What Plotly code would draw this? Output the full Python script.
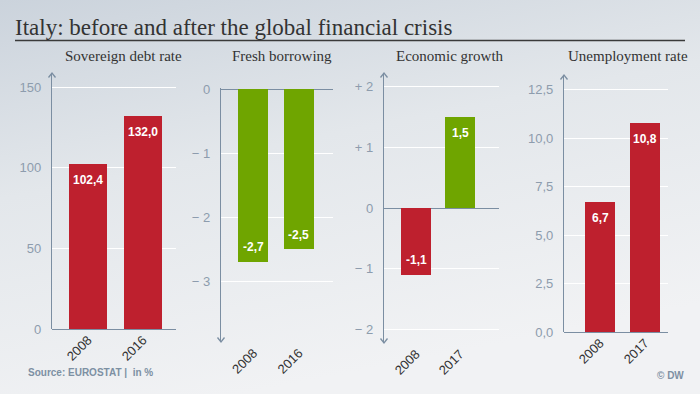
import base64
import plotly.graph_objects as go

# ---------------- data ----------------
panel_titles = ["Sovereign debt rate", "Fresh borrowing", "Economic growth", "Unemployment rate"]
debt_years = ["2008", "2016"]
debt_values = [102.4, 132.0]
borrow_years = ["2008", "2016"]
borrow_values = [-2.7, -2.5]
growth_years = ["2008", "2017"]
growth_values = [-1.1, 1.5]
unemp_years = ["2008", "2017"]
unemp_values = [6.7, 10.8]

debt_ticks = [0, 50, 100, 150]
debt_ticktext = ["0", "50", "100", "150"]
borrow_ticks = [0, -1, -2, -3]
borrow_ticktext = ["0", "\u2212 1", "\u2212 2", "\u2212 3"]
growth_ticks = [2, 1, 0, -1, -2]
growth_ticktext = ["+ 2", "+ 1", "0", "\u2212 1", "\u2212 2"]
unemp_ticks = [0, 2.5, 5, 7.5, 10, 12.5]
unemp_ticktext = ["0,0", "2,5", "5,0", "7,5", "10,0", "12,5"]

title_text = "Italy: before and after the global financial crisis"
source_text = "Source: EUROSTAT |  in %"
credit_text = "\u00a9 DW"

# ---------------- style ----------------
W, H = 700, 394
RED = "#be202e"
GREEN = "#6fa500"
AXIS = "#7b8ea2"
TICK = "#8d9cad"
DARK = "#333333"

def fx(p):
    return p / W

def fy(p):
    return 1 - p / H

# geometry per panel (pixels) and axis ranges
geo = [
    dict(x0=52, x1=176, yt=73, yb=329, xr=[-0.655, 1.6], yr=[0, 158.7], bw=0.69,
         arrows=[("up", 52, 73)]),
    dict(x0=221, x1=333, yt=88.3, yb=342, xr=[-0.714, 1.75], yr=[-3.94, 0.012], bw=0.66,
         arrows=[("down", 221, 342)]),
    dict(x0=384, x1=499, yt=73, yb=343, xr=[-0.727, 1.886], yr=[-2.23, 2.23], bw=0.68,
         arrows=[("up", 384, 73), ("down", 384, 343)]),
    dict(x0=564, x1=668, yt=75, yb=332, xr=[-0.8, 1.51], yr=[0, 13.27], bw=0.667,
         arrows=[("up", 564, 75)]),
]
title_cx = [124, 282, 450, 628]

series = [
    (debt_years, debt_values, [RED, RED], debt_ticks, debt_ticktext),
    (borrow_years, borrow_values, [GREEN, GREEN], borrow_ticks, borrow_ticktext),
    (growth_years, growth_values, [RED if v < 0 else GREEN for v in growth_values], growth_ticks, growth_ticktext),
    (unemp_years, unemp_values, [RED, RED], unemp_ticks, unemp_ticktext),
]

fig = go.Figure()
annotations = []
shapes = []

for i, ((cats, vals, cols, tv, tt), g) in enumerate(zip(series, geo)):
    n = "" if i == 0 else str(i + 1)
    xa, ya = "x" + n, "y" + n
    fig.add_trace(go.Bar(
        x=cats, y=vals, marker=dict(color=cols, line=dict(width=0)),
        width=g["bw"], xaxis=xa, yaxis=ya, showlegend=False, hoverinfo="skip",
    ))
    fig.layout["xaxis" + n] = dict(
        domain=[fx(g["x0"]), fx(g["x1"])], anchor=ya, type="category",
        range=g["xr"], showgrid=False, zeroline=False, showline=False, automargin=False,
        tickangle=-45, tickfont=dict(family="Liberation Sans", size=13, color=DARK),
        ticks="", fixedrange=True,
    )
    fig.layout["yaxis" + n] = dict(
        domain=[fy(g["yb"]), fy(g["yt"])], anchor=xa, range=g["yr"], automargin=False,
        showgrid=True, gridcolor="#ffffff", gridwidth=1,
        zeroline=True, zerolinecolor=AXIS, zerolinewidth=1.3,
        showline=True, linecolor=AXIS, linewidth=1.3,
        tickvals=tv, ticktext=tt, ticks="", ticklabelstandoff=7,
        tickfont=dict(family="Liberation Sans", size=13, color=TICK), fixedrange=True,
    )
    # value labels inside bars (category index positions)
    for k, v in enumerate(vals):
        lab = f"{v:.1f}".replace(".", ",")
        annotations.append(dict(
            x=k, y=v, xref=xa, yref=ya, text=lab, showarrow=False,
            yanchor="top" if v > 0 else "bottom", yshift=-7 if v > 0 else 6,
            font=dict(family="Liberation Sans", size=12, color="#ffffff", weight="bold"),
        ))
    # panel title
    annotations.append(dict(
        x=fx(title_cx[i]), y=fy(56), xref="paper", yref="paper", text=panel_titles[i],
        showarrow=False, xanchor="center", yanchor="middle",
        font=dict(family="Liberation Serif", size=15, color=DARK),
    ))
    # axis arrow heads
    for d, ax_, ay_ in g["arrows"]:
        s = 1 if d == "up" else -1
        path = (f"M {fx(ax_ - 3.5)},{fy(ay_ + 4.5 * s)} L {fx(ax_)},{fy(ay_)} "
                f"L {fx(ax_ + 3.5)},{fy(ay_ + 4.5 * s)}")
        shapes.append(dict(type="path", path=path, xref="paper", yref="paper",
                           line=dict(color=AXIS, width=1.3)))

# main title + rule
annotations.append(dict(
    x=fx(13), y=fy(27), xref="paper", yref="paper", text=title_text, showarrow=False,
    xanchor="left", yanchor="middle", font=dict(family="Liberation Serif", size=23, color=DARK),
))
shapes.append(dict(type="line", xref="paper", yref="paper", x0=fx(15), x1=fx(685),
                   y0=fy(40.5), y1=fy(40.5), line=dict(color="#3a3a3a", width=1.5)))
annotations.append(dict(
    x=fx(26), y=fy(372), xref="paper", yref="paper", text=source_text, showarrow=False,
    xanchor="left", yanchor="middle",
    font=dict(family="Liberation Sans", size=10, color="#7d90a3", weight="bold"),
))
annotations.append(dict(
    x=fx(686), y=fy(375), xref="paper", yref="paper", text=credit_text, showarrow=False,
    xanchor="right", yanchor="middle",
    font=dict(family="Liberation Sans", size=10, color="#7d90a3", weight="bold"),
))

svg = (
    '<svg xmlns="http://www.w3.org/2000/svg" width="700" height="394" preserveAspectRatio="none">'
    '<defs><linearGradient id="g" x1="0" y1="0" x2="0.35" y2="1">'
    '<stop offset="0" stop-color="#cbd3dc"/><stop offset="0.45" stop-color="#e3e7eb"/>'
    '<stop offset="1" stop-color="#f1f2f4"/></linearGradient></defs>'
    '<rect width="700" height="394" fill="url(#g)"/></svg>'
)
src = "data:image/svg+xml;base64," + base64.b64encode(svg.encode()).decode()

fig.update_layout(
    width=W, height=H, margin=dict(l=0, r=0, t=0, b=0, pad=0),
    paper_bgcolor="#eef0f2", plot_bgcolor="rgba(0,0,0,0)",
    annotations=annotations, shapes=shapes, bargap=0,
    images=[dict(source=src, xref="paper", yref="paper", x=0, y=1, sizex=1, sizey=1,
                 sizing="stretch", layer="below", xanchor="left", yanchor="top")],
)

fig.write_html(
    "out.html",
    config={"displayModeBar": False},
    post_script="document.body.style.margin='0';document.body.style.overflow='hidden';",
)
